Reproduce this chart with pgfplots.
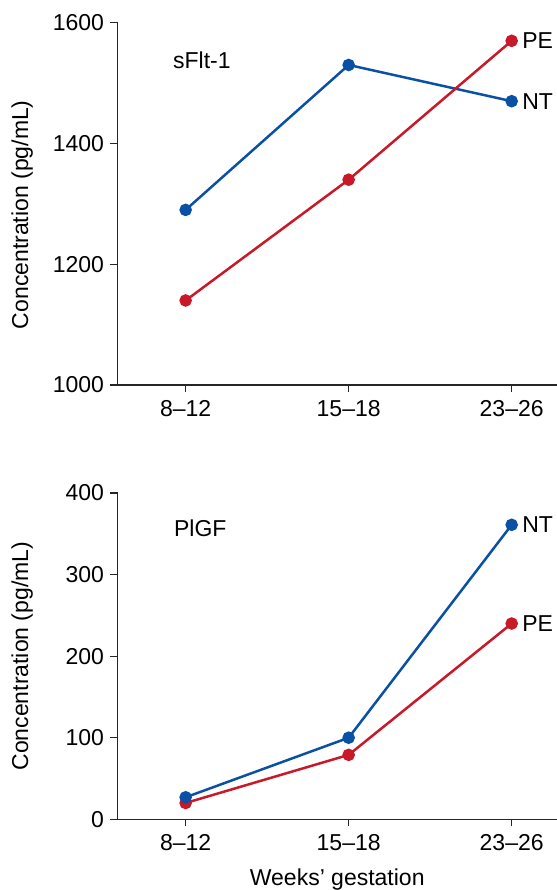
\documentclass[border=0pt]{standalone}
\usepackage{fontspec}
\setmainfont{Liberation Sans}
\usepackage{pgfplots}
\pgfplotsset{compat=1.18}
\definecolor{ntblue}{RGB}{10,80,165}
\definecolor{pered}{RGB}{200,25,40}
\newcommand{\ff}{\fontsize{23bp}{27bp}\selectfont}
\begin{document}
\begin{tikzpicture}[font=\ff]
\path[use as bounding box] (0bp,0bp) rectangle (557bp,-890bp);
\pgfplotsset{
  every axis/.append style={
    scale only axis, width=439.5bp, xmin=-0.418, xmax=2.278,
    axis x line=bottom, axis y line=left,
    axis line style={-, line width=1.6bp, black!85},
    tick align=outside, major tick length=7bp,
    tick style={line width=1.2bp, black!85},
    xtick={0,1,2}, xticklabels={8–12,15–18,23–26},
    /pgf/number format/assume math mode=true,
    /pgf/number format/set thousands separator={},
    ticklabel style={font=\ff},
    xticklabel style={yshift=-5bp},
    yticklabel style={xshift=-3bp},
    label style={font=\ff},
    clip=false,
  },
  ser/.style={line width=2.5bp, mark=*, mark size=5bp, mark options={solid}},
}
% top panel
\begin{axis}[at={(117.5bp,-385bp)}, anchor=south west, height=362.3bp,
  ymin=1000, ymax=1600, ytick={1000,1200,1400,1600},
  ylabel={Concentration (pg/mL)},
  ylabel style={at={(rel axis cs:-0.217,0.47)}, anchor=center}]
\addplot[ntblue, ser] coordinates {(0,1290) (1,1530) (2,1470)};
\addplot[pered, ser] coordinates {(0,1140) (1,1340) (2,1570)};
\node[anchor=west, inner sep=0pt, xshift=10.5bp] at (axis cs:2,1570) {PE};
\node[anchor=west, inner sep=0pt, xshift=10.5bp] at (axis cs:2,1470) {NT};
\node[anchor=west, inner sep=0pt] at (axis cs:-0.078,1538) {sFlt-1};
\end{axis}
% bottom panel
\begin{axis}[at={(117.5bp,-819.3bp)}, anchor=south west, height=326.3bp,
  ymin=0, ymax=400, ytick={0,100,200,300,400},
  ylabel={Concentration (pg/mL)},
  ylabel style={at={(rel axis cs:-0.217,0.5)}, anchor=center},
  xlabel={Weeks’ gestation},
  xlabel style={at={(rel axis cs:0.5,0)}, anchor=base, yshift=-66.2bp}]
\addplot[pered, ser] coordinates {(0,20) (1,79) (2,240)};
\addplot[ntblue, ser] coordinates {(0,27) (1,100) (2,361)};
\node[anchor=west, inner sep=0pt, xshift=10.5bp] at (axis cs:2,240) {PE};
\node[anchor=west, inner sep=0pt, xshift=10.5bp] at (axis cs:2,361) {NT};
\node[anchor=west, inner sep=0pt] at (axis cs:-0.072,356.5) {PlGF};
\end{axis}
\end{tikzpicture}
\end{document}
